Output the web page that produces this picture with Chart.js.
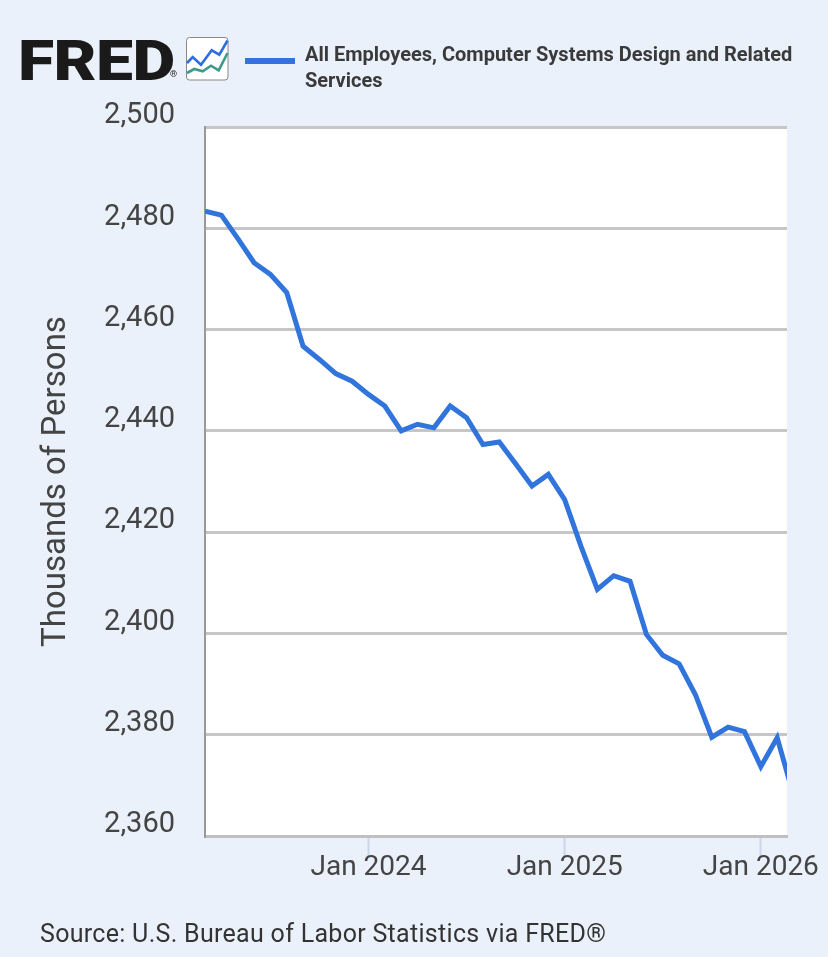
<!DOCTYPE html>
<html lang="en">
<head>
  <meta charset="UTF-8" />
  <title>All Employees, Computer Systems Design and Related Services</title>
  <style>
    html, body {
      margin: 0;
      padding: 0;
      background: #eaf1fa;
      font-family: Roboto, "Noto Sans", Arial, sans-serif;
    }
    #page {
      position: relative;
      width: 828px;
      height: 957px;
      overflow: hidden;
    }
    #chart {
      position: absolute;
      left: 0;
      top: 0;
    }
    #logo {
      position: absolute;
      left: 18px;
      top: 33px;
      font-size: 56px;
      font-weight: 900;
      line-height: 56px;
      color: #1a1a1a;
      transform: scaleX(1.18);
      transform-origin: left top;
      letter-spacing: -0.5px;
    }
    #reg {
      position: absolute;
      left: 170px;
      top: 69px;
      font-size: 9px;
      color: #1a1a1a;
    }
    #icon {
      position: absolute;
      left: 186px;
      top: 37px;
    }
    #legendLine {
      position: absolute;
      left: 245px;
      top: 58px;
      width: 50px;
      height: 6px;
      background: #3074dc;
    }
    #legendText {
      position: absolute;
      left: 305px;
      top: 42px;
      font-size: 20px;
      font-weight: 700;
      line-height: 25.7px;
      color: #3a3a3a;
      white-space: nowrap;
    }
    #source {
      position: absolute;
      left: 40px;
      top: 921px;
      font-size: 25px;
      line-height: 25px;
      letter-spacing: 0.3px;
      color: #333;
      white-space: nowrap;
    }
  </style>
</head>
<body>
  <div id="page">
    <canvas id="chart" width="828" height="957"></canvas>
    <div id="logo">FRED</div>
    <div id="reg">®</div>
    <svg id="icon" width="43" height="44" viewBox="0 0 43 44">
      <rect x="0.5" y="0.5" width="41.5" height="42.5" rx="3" fill="#fff" stroke="#888" stroke-width="1" />
      <polyline points="1,26 6.7,20 15,27.7 25.7,13.3 33.3,17.7 41.5,3.5" fill="none" stroke="#2f6fdc" stroke-width="2.6" />
      <polyline points="1,36 8.3,32 16.7,34.3 25,28.7 32.7,33.3 41.5,16" fill="none" stroke="#3f9a8c" stroke-width="2.6" />
    </svg>
    <div id="legendLine"></div>
    <div id="legendText">All Employees, Computer Systems Design and Related<br>Services</div>
    <div id="source">Source: U.S. Bureau of Labor Statistics via FRED®</div>
  </div>

  <script src="https://cdn.jsdelivr.net/npm/chart.js"></script>
  <script>
    // monthly observations, Mar 2023 .. Mar 2026 (thousands of persons)
    const months = [
      '2023-03', '2023-04', '2023-05', '2023-06', '2023-07', '2023-08',
      '2023-09', '2023-10', '2023-11', '2023-12',
      '2024-01', '2024-02', '2024-03', '2024-04', '2024-05', '2024-06',
      '2024-07', '2024-08', '2024-09', '2024-10', '2024-11', '2024-12',
      '2025-01', '2025-02', '2025-03', '2025-04', '2025-05', '2025-06',
      '2025-07', '2025-08', '2025-09', '2025-10', '2025-11', '2025-12',
      '2026-01', '2026-02', '2026-03'
    ];
    const employees = [
      2483.4, 2482.6, 2478.0, 2473.2, 2470.9, 2467.3,
      2456.7, 2454.1, 2451.3, 2449.8,
      2447.2, 2444.9, 2440.0, 2441.3, 2440.6, 2444.9,
      2442.6, 2437.3, 2437.8, 2433.5, 2429.1, 2431.4,
      2426.4, 2417.2, 2408.7, 2411.4, 2410.3, 2399.8,
      2395.7, 2394.0, 2387.9, 2379.5, 2381.5, 2380.6,
      2373.7, 2379.4, 2368.0
    ];
    const xTickMonths = ['2024-01', '2025-01', '2026-01'];
    const xTickLabels = ['Jan 2024', 'Jan 2025', 'Jan 2026'];
    const yMin = 2360;
    const yMax = 2500;
    const yStep = 20;
    const xMaxMonths = 35.6; // visible window ends just before the last observation

    const points = employees.map((v, i) => ({ x: i, y: v }));
    const tickIdx = xTickMonths.map(m => months.indexOf(m));

    const plotBackground = {
      id: 'plotBackground',
      beforeDraw(chart) {
        const { ctx, chartArea } = chart;
        ctx.save();
        ctx.fillStyle = '#ffffff';
        ctx.fillRect(chartArea.left, chartArea.top, chartArea.width, chartArea.height);
        ctx.restore();
      }
    };

    new Chart(document.getElementById('chart'), {
      type: 'line',
      data: {
        datasets: [{
          label: 'All Employees, Computer Systems Design and Related Services',
          data: points,
          borderColor: '#3074dc',
          borderWidth: 5,
          pointRadius: 0,
          tension: 0,
          clip: { left: 0, top: false, right: 0, bottom: false }
        }]
      },
      options: {
        responsive: false,
        animation: false,
        layout: { padding: { left: 0, right: 41, top: 127, bottom: 51 } },
        plugins: {
          legend: { display: false },
          tooltip: { enabled: false }
        },
        scales: {
          x: {
            type: 'linear',
            min: 0,
            max: xMaxMonths,
            afterBuildTicks: scale => {
              scale.ticks = tickIdx.map(v => ({ value: v }));
            },
            afterFit: scale => { scale.height = 70; },
            grid: {
              drawOnChartArea: false,
              drawTicks: true,
              tickLength: 20,
              tickColor: '#ccd6eb',
              tickWidth: 2
            },
            border: { color: '#c0c0c0', width: 3 },
            ticks: {
              autoSkip: false,
              maxRotation: 0,
              padding: -5,
              color: '#444',
              font: { family: 'Roboto', size: 28 },
              callback: v => xTickLabels[tickIdx.indexOf(v)]
            }
          },
          y: {
            min: yMin,
            max: yMax,
            afterFit: scale => { scale.width = 205; },
            grid: { color: '#c6c6c6', lineWidth: 3, drawTicks: false },
            border: { color: '#999', width: 2 },
            ticks: {
              stepSize: yStep,
              padding: 30,
              labelOffset: -11,
              color: '#444',
              font: { family: 'Roboto', size: 29 },
              callback: v => v.toLocaleString('en-US')
            },
            title: {
              display: true,
              text: 'Thousands of Persons',
              color: '#444',
              font: { family: 'Roboto', size: 33 },
              padding: { top: 37, bottom: 0 }
            }
          }
        }
      },
      plugins: [plotBackground]
    });
  </script>
</body>
</html>
